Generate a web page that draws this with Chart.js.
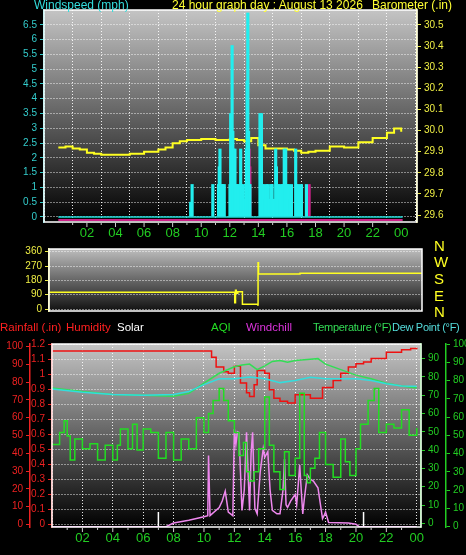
<!DOCTYPE html>
<html><head><meta charset="utf-8">
<script src="https://cdn.jsdelivr.net/npm/chart.js@4.4.0/dist/chart.umd.min.js"></script>
<style>
body{margin:0;background:#000;width:466px;height:555px;overflow:hidden;position:relative;font-family:"Liberation Sans",Arial,sans-serif}
canvas{position:absolute;left:0}
.t{position:absolute;font-size:12px;white-space:nowrap;line-height:12px}
.d{position:absolute;left:434px;font-size:15px;color:#ffff22;line-height:15px}
</style></head><body>
<canvas id="c1" width="466" height="250" style="top:0"></canvas>
<canvas id="c2" width="466" height="80" style="top:240px"></canvas>
<canvas id="c3" width="466" height="220" style="top:335px"></canvas>
<div class="t" style="left:34px;top:-1px;color:#33dddd">Windspeed (mph)</div>
<div class="t" style="left:172px;top:-1px;color:#ffff33">24 hour graph day : August 13 2026</div>
<div class="t" style="left:372px;top:-1px;color:#ffff33">Barometer (.in)</div>
<div class="d" style="top:238px">N</div>
<div class="d" style="top:254px">W</div>
<div class="d" style="top:271px">S</div>
<div class="d" style="top:288px">E</div>
<div class="d" style="top:304px">N</div>
<div class="t" style="left:0px;top:321px;color:#ff2020;font-size:11.5px">Rainfall (.in)</div>
<div class="t" style="left:66px;top:321px;color:#ff2020;font-size:11.5px">Humidity</div>
<div class="t" style="left:117px;top:321px;color:#ffffff;font-size:11.5px">Solar</div>
<div class="t" style="left:211px;top:321px;color:#22dd22;font-size:11.5px">AQI</div>
<div class="t" style="left:246px;top:321px;color:#dd33dd;font-size:11.5px">Windchill</div>
<div class="t" style="left:313px;top:321px;color:#33dd55;font-size:11px;letter-spacing:-0.3px">Temperature (°F)</div>
<div class="t" style="left:392px;top:321px;color:#55dddd;font-size:11px;letter-spacing:-0.3px">Dew Point (°F)</div>
<script>
const hourTicks=[2,4,6,8,10,12,14,16,18,20,22,24];
const windBars=[[9.35,0.5],[9.45,1.1],[10.9,1.1],[11.3,1.1],[11.35,1.7],[11.4,2.3],[11.5,1.1],[11.6,1.1],[11.7,1.1],[12.1,1.1],[12.15,3.5],[12.2,2.3],[12.25,5.8],[12.3,2.9],[12.35,2.3],[12.4,1.1],[12.45,2.3],[12.5,1.1],[12.6,1.1],[12.7,1.1],[12.85,2.3],[12.9,1.1],[13.0,1.1],[13.1,0.6],[13.2,1.1],[13.25,2.3],[13.3,4.6],[13.35,6.9],[13.4,2.9],[13.45,1.1],[13.5,1.1],[14.2,3.5],[14.25,1.1],[14.3,3.5],[14.35,1.1],[14.45,1.1],[14.55,0.6],[14.65,1.1],[14.75,1.1],[14.85,0.6],[14.95,1.1],[15.05,1.1],[15.15,0.6],[15.3,2.3],[15.35,1.7],[15.4,1.1],[15.5,1.1],[15.6,0.6],[15.7,1.1],[15.8,1.1],[15.9,2.3],[15.95,1.1],[16.0,2.3],[16.1,1.1],[16.2,1.1],[16.3,0.6],[16.4,1.1],[16.7,2.3],[16.75,1.1],[16.9,1.1],[17.1,1.1],[17.45,1.1]];
const gustBars=[[11.45,0.5],[12.4,1.1],[13.3,2.3],[13.35,1.7],[14.25,0.5],[15.35,1.1],[16.7,1.1],[17.5,1.1]];
const gustBase=[[0,-0.1],[24.1,-0.1]];
const baroHours=[0,0.5,1,1.5,2,2.5,3,4,5,6,7,7.5,8,8.5,9,10,11,12,12.5,13,13.5,14,14.5,15,16,16.5,17,17.5,18,19,20,21,22,23,23.5,24];
const baroVals=[29.92,29.925,29.915,29.91,29.895,29.89,29.885,29.885,29.89,29.9,29.91,29.92,29.94,29.95,29.955,29.96,29.955,29.96,29.955,29.95,29.965,29.93,29.915,29.915,29.91,29.905,29.895,29.9,29.905,29.925,29.92,29.945,29.965,29.99,30.01,29.995];
const dirHours=[0,12.05,12.1,12.15,12.2,12.3,12.55,12.6,13.55,13.6,13.62,13.65,16.3,16.35,24.3];
const dirVals=[105,105,40,118,100,108,108,30,30,25,290,220,220,225,225];
const tempHours=[0,2,4,6,8,9,10,11,12,12.5,13,13.5,14,14.5,15,15.5,16,17,17.5,18,19,20,21,22,23,24];
const tempVals=[74,72,70.4,70,69.5,71,76.6,82,85.6,86.5,87,84,86,88.5,89,88,89,89.7,90,87,84,81,79,76.6,75,74];
const dewHours=[0,2,4,6,8,9,10,11,12,13,14,15,16,17,18,19,20,21,22,23,24];
const dewVals=[73.4,71.6,70.4,70,70.4,72,75.8,79,79,80,79,76.9,78,79.8,79,79,79,78,76.3,75,74.9];
const humHours=[0,10.4,10.5,10.8,11.3,11.6,12,12.4,12.8,13,13.3,13.5,14,14.3,14.6,15,15.5,16,16.5,17,17.5,17.8,18.5,19,19.5,20,20.5,21,22,23,23.6,24];
const humVals=[97.5,97.5,94,88.6,85.9,85,89,79.5,74,72,78.5,86.6,85,75.8,71,69.3,68.3,73,73,71,71,77,81,85,88.6,90.4,91.4,93.3,96.9,98.2,99,98.5];
const solarHours=[0,7.5,8,9,10,10.25,10.3,10.4,11,11.2,11.4,11.6,11.9,12,12.1,12.2,12.3,12.4,12.5,12.65,12.8,12.9,13,13.1,13.2,13.35,13.5,13.7,13.9,14.0,14.2,14.35,14.5,14.8,15,15.2,15.3,15.4,15.5,15.7,16,16.1,16.3,16.4,16.5,16.6,16.8,17.0,17.2,17.5,17.8,17.9,18,18.2,19.5,20,20.2,24];
const solarVals=[0,0,2,3.5,5.4,6,39,6,10.5,14,19.4,8,6,53.5,45,52,51.6,30,8.9,20,51.6,30,8.9,40,51.6,10,7,30,42.7,38,41,20,8.9,7,7,20,37,12,10.5,14,17.6,12,33.7,20,7,15,28.4,26,24.9,21.3,4.4,6,8,2.3,2,1.3,0,0];
const aqiHours=[0,0.5,0.8,1,1.2,1.5,2,2.5,3,3.5,4,4.3,4.5,5,5.3,5.6,6,6.5,7,7.5,8,8.5,9,9.5,10,10.3,10.6,11,11.3,11.6,12,12.3,12.6,12.8,13,13.3,13.6,14,14.3,14.6,15,15.3,15.6,16,16.3,16.6,16.8,17,17.3,17.6,18,18.5,19,19.3,19.6,20,20.3,20.8,21.2,21.5,22,22.5,23,23.5,24];
const aqiVals=[45,51.6,58,49.6,36.5,48,42.7,45.4,36.5,44.5,36.5,44.5,53.5,42.7,56,42,53.5,51.6,37.5,51.6,36.5,48,42.7,59.6,51.6,62,69,75.6,69,58,51.6,39,46,30,25,30,42.7,71,44.5,30,20.3,41,28,37.5,73,28,24,32,37.5,51.6,34,27,48,35.5,28,42.7,56,69,75.6,51.6,56,54,64,50,54];
const rainHours=[0,24.3];
const rainVals=[0,0];
const sunMarks=[7.0,20.5];
const sunMarkHeight=8;

const pairs=a=>a.map(p=>({x:p[0],y:p[1]}));
const zip=(h,v)=>h.map((x,i)=>({x,y:v[i]}));
const bgPlugin=(top,bot)=>({id:'bg',beforeDraw(c){const x=c.ctx,a=c.chartArea;x.save();x.fillStyle='#000';x.fillRect(0,0,c.width,c.height);const g=x.createLinearGradient(0,a.top,0,a.bottom);g.addColorStop(0,top);g.addColorStop(1,bot);x.fillStyle=g;x.fillRect(a.left,a.top,a.right-a.left,a.bottom-a.top);x.restore();},
 afterDraw(c){const x=c.ctx,a=c.chartArea;x.save();x.strokeStyle='#fff';x.lineWidth=1.5;x.strokeRect(a.left,a.top,a.right-a.left,a.bottom-a.top);
 if(c.scales.x.options.display){x.strokeStyle='#ccc';x.lineWidth=1;for(let h=1;h<24;h++){const px=c.scales.x.getPixelForValue(h);x.beginPath();x.moveTo(px,a.bottom+1);x.lineTo(px,a.bottom+(h%2?3:5));x.stroke();}}
 x.restore();}});
const xAxis=(max,h)=>({type:'linear',min:0,max:max,afterFit:s=>{s.height=h},afterBuildTicks:s=>{s.ticks=[0,...hourTicks].map(v=>({value:v}))},
 ticks:{color:'#22cc22',font:{size:13,family:'Liberation Sans'},padding:4,callback:v=>v===0?'':String(v%24).padStart(2,'0'),maxRotation:0,autoSkip:false},
 grid:{color:'rgba(255,255,255,0.9)',drawTicks:false},border:{display:false,dash:[1,2]}});
const yAx=(pos,min,max,ticks,w,color,fmt,grid)=>({type:'linear',position:pos,min,max,afterFit:s=>{s.width=w},afterBuildTicks:s=>{s.ticks=ticks.map(v=>({value:v}))},
 ticks:{color,font:{size:10,family:'Liberation Sans'},padding:3,callback:fmt||(v=>v),autoSkip:false},
 grid:grid?{color:'rgba(255,255,255,0.9)',tickLength:4,tickColor:color}:{drawOnChartArea:false,tickLength:4,color},
 border:{color,width:1.5,dash:grid?[1,2]:undefined}});
const range=(a,b,s)=>{const r=[];for(let v=a;v<=b+1e-9;v+=s)r.push(+v.toFixed(2));return r;};
const common={responsive:false,animation:false,plugins:{legend:{display:false},tooltip:{enabled:false}},elements:{point:{radius:0}}};

new Chart(document.getElementById('c1'),{type:'line',data:{datasets:[
 {type:'line',data:pairs(gustBase),borderColor:'#cc2288',borderWidth:2,yAxisID:'w'},
 {type:'line',data:[{x:0,y:0},{x:24.1,y:0}],borderColor:'#22dddd',borderWidth:1.5,yAxisID:'w'},
 {type:'bar',data:pairs(windBars),backgroundColor:'#22eeee',barThickness:2.5,yAxisID:'w'},
 {type:'bar',data:pairs(gustBars),backgroundColor:'#cc2288',barThickness:2,yAxisID:'w'},
 {type:'line',data:zip(baroHours,baroVals),borderColor:'#ffff22',borderWidth:2,stepped:true,yAxisID:'b'}
]},options:{...common,layout:{padding:{top:10,left:0,right:0,bottom:0}},scales:{
 x:xAxis(24.1,28),
 w:yAx('left',-0.17,7.0,range(0,6.5,0.5),44,'#33cccc',v=>v,true),
 b:yAx('right',29.567,30.571,range(29.6,30.5,0.1),49,'#eeee44',v=>v.toFixed(1))
}},plugins:[bgPlugin('#c4c4c4','#000')]});

new Chart(document.getElementById('c2'),{type:'line',data:{datasets:[
 {data:zip(dirHours,dirVals),borderColor:'#ffff22',borderWidth:1.5,stepped:true,yAxisID:'d'}
]},options:{...common,layout:{padding:{top:4,bottom:7,right:44}},scales:{
 x:Object.assign(xAxis(24.3,0),{display:false}),
 d:yAx('left',-12,377,[0,90,180,270,360],49,'#eeee44',v=>v,true)
}},plugins:[bgPlugin('#bdbdbd','#111')]});

const sunData=[];sunMarks.forEach(h=>{sunData.push({x:h,y:0},{x:h,y:sunMarkHeight},{x:h,y:null});});
new Chart(document.getElementById('c3'),{type:'line',data:{datasets:[
 {data:zip(aqiHours,aqiVals),borderColor:'#22dd22',borderWidth:1.5,stepped:true,yAxisID:'a'},
 {data:zip(solarHours,solarVals),borderColor:'#ee88ee',borderWidth:1.5,yAxisID:'a'},
 {data:sunData,borderColor:'#ffffff',borderWidth:1.5,spanGaps:false,yAxisID:'a'},
 {data:zip(dewHours,dewVals),borderColor:'#33dddd',borderWidth:1.5,yAxisID:'t'},
 {data:zip(tempHours,tempVals),borderColor:'#33dd55',borderWidth:1.5,yAxisID:'t'},
 {data:zip(humHours,humVals),borderColor:'#ee1111',borderWidth:1.5,stepped:true,yAxisID:'h'},
 {data:zip(rainHours,rainVals),borderColor:'#ee1144',borderWidth:3,yAxisID:'r'}
]},options:{...common,layout:{padding:{top:5}},scales:{
 x:xAxis(24.28,28),
 r:yAx('left',-0.018,1.2,range(0,1.2,0.1),22,'#ee2222',v=>v===0?'0':v===1?'1':v.toFixed(1),true),
 h:yAx('left',-1.5,101.5,range(0,100,10),30,'#ee2222',v=>v,false),
 t:yAx('right',-2,98,range(0,90,10),25,'#22cc22',v=>v,false),
 a:yAx('right',-0.2,100,range(0,100,10),20,'#22cc22',v=>v,false)
}},plugins:[bgPlugin('#c4c4c4','#000')]});
</script></body></html>
